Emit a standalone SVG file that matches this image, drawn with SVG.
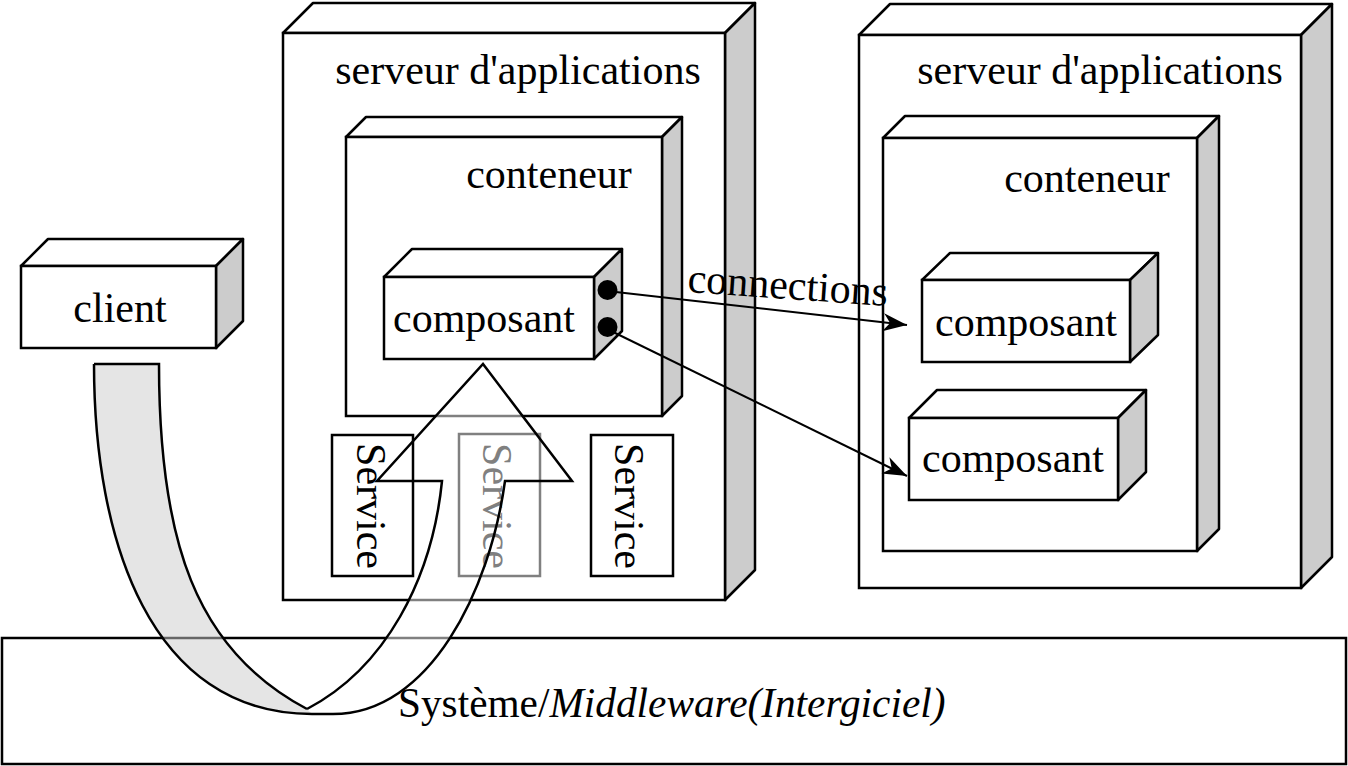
<svg xmlns="http://www.w3.org/2000/svg" width="1348" height="766" viewBox="0 0 1348 766">
<style>
.front{fill:#fff;stroke:#000;stroke-width:2.5}
.top{fill:#fff;stroke:#000;stroke-width:2.5;stroke-linejoin:round}
.side{fill:#ccc;stroke:#000;stroke-width:2.5;stroke-linejoin:round}
.t{font-family:"Liberation Serif","Times New Roman",serif;font-size:42px;fill:#000}
.mid{text-anchor:middle}
.conn{stroke:#000;stroke-width:2;fill:none;marker-end:url(#ah)}
</style>
<defs>
<marker id="ah" markerUnits="userSpaceOnUse" markerWidth="26" markerHeight="22" viewBox="0 0 26 22" refX="24" refY="11" orient="auto">
<path d="M0,2 L24,11 L0,20 L7,11 Z" fill="#000"/>
</marker>
</defs>
<rect x="0" y="0" width="1348" height="766" fill="#fff"/>

<g id="middleware">
<rect class="front" x="2" y="638" width="1344" height="126"/>
</g>

<g id="client">
<polygon class="top" points="21,266 48,239 243,239 216,266"/>
<polygon class="side" points="216,266 243,239 243,321 216,348"/>
<rect class="front" x="21" y="266" width="195" height="82"/>
<text class="t mid" x="120" y="322">client</text>
</g>

<g id="server1">
<polygon class="top" points="283,33 313,3 755,3 725,33"/>
<polygon class="side" points="725,33 755,3 755,570 725,600"/>
<rect class="front" x="283" y="33" width="442" height="567"/>
<text class="t mid" x="518" y="84">serveur d'applications</text>
</g>

<g id="container1">
<polygon class="top" points="346,137 366,117 682,117 662,137"/>
<polygon class="side" points="662,137 682,117 682,396 662,416"/>
<rect class="front" x="346" y="137" width="316" height="279"/>
<text class="t mid" x="549" y="188">conteneur</text>
</g>

<g id="composant1">
<polygon class="top" points="384,277 412,249 622,249 594,277"/>
<polygon class="side" points="594,277 622,249 622,331 594,359"/>
<rect class="front" x="384" y="277" width="210" height="82"/>
<circle cx="607.5" cy="290" r="10" fill="#000"/>
<circle cx="607.5" cy="327" r="10" fill="#000"/>
<text class="t mid" x="484" y="332">composant</text>
</g>

<g id="server2">
<polygon class="top" points="859,35 890,4 1332,4 1301,35"/>
<polygon class="side" points="1301,35 1332,4 1332,557 1301,588"/>
<rect class="front" x="859" y="35" width="442" height="553"/>
<text class="t mid" x="1100" y="84">serveur d'applications</text>
</g>

<g id="container2">
<polygon class="top" points="883,138 905,116 1219,116 1197,138"/>
<polygon class="side" points="1197,138 1219,116 1219,529 1197,551"/>
<rect class="front" x="883" y="138" width="314" height="413"/>
<text class="t mid" x="1087" y="192">conteneur</text>
</g>

<g id="composant2">
<polygon class="top" points="922,280 950,253 1158,253 1130,280"/>
<polygon class="side" points="1130,280 1158,253 1158,335 1130,362"/>
<rect class="front" x="922" y="280" width="208" height="82"/>
<text class="t mid" x="1026" y="336">composant</text>
</g>

<g id="composant3">
<polygon class="top" points="909,418 937,390 1146,390 1118,418"/>
<polygon class="side" points="1118,418 1146,390 1146,472 1118,500"/>
<rect class="front" x="909" y="418" width="209" height="82"/>
<text class="t mid" x="1013" y="472">composant</text>
</g>

<g id="service3">
<rect class="front" x="591" y="435" width="82" height="141"/>
<text class="t mid" transform="translate(615,506) rotate(90)" x="0" y="0">Service</text>
</g>

<g id="bent-arrow-fill">
<path d="M94,364 L159,364 C159,540 195,650 307,709 L312,714 C150,714 94,540 94,364 Z" fill="#ccc" fill-opacity="0.5"/>
<path d="M307,709 C385,668 432,580 442,481 L377,481 L483,364 L572,481 L505,481 C490,590 430,714 333,714 L312,714 Z" fill="#fff" fill-opacity="0.5"/>
</g>

<g id="service1">
<rect x="332" y="435" width="81" height="141" fill="none" stroke="#000" stroke-width="2.5"/>
<text class="t mid" transform="translate(357,506) rotate(90)" x="0" y="0">Service</text>
</g>

<g id="service2">
<rect x="459" y="434" width="81" height="142" fill="none" stroke="#808080" stroke-width="2.5"/>
<text class="t mid" transform="translate(483,506) rotate(90)" x="0" y="0" style="fill:#808080">Service</text>
</g>

<g id="bent-arrow-outline" fill="none" stroke="#000" stroke-width="2.5" stroke-linejoin="miter">
<path d="M94,364 L159,364 C159,540 195,650 307,709"/>
<path d="M307,709 C385,668 432,580 442,481 L377,481 L483,364 L572,481 L505,481 C490,590 430,714 333,714 L312,714 C150,714 94,540 94,364"/>
</g>

<g id="connectors">
<line class="conn" x1="607" y1="291" x2="907" y2="325"/>
<line class="conn" x1="607" y1="329" x2="907" y2="476"/>
</g>

<g id="labels">
<text class="t" transform="translate(687,292) rotate(4)" x="0" y="0">connections</text>
<text class="t" x="398" y="717" style="font-size:41.3px">Système/<tspan font-style="italic">Middleware(Intergiciel)</tspan></text>
</g>
</svg>
